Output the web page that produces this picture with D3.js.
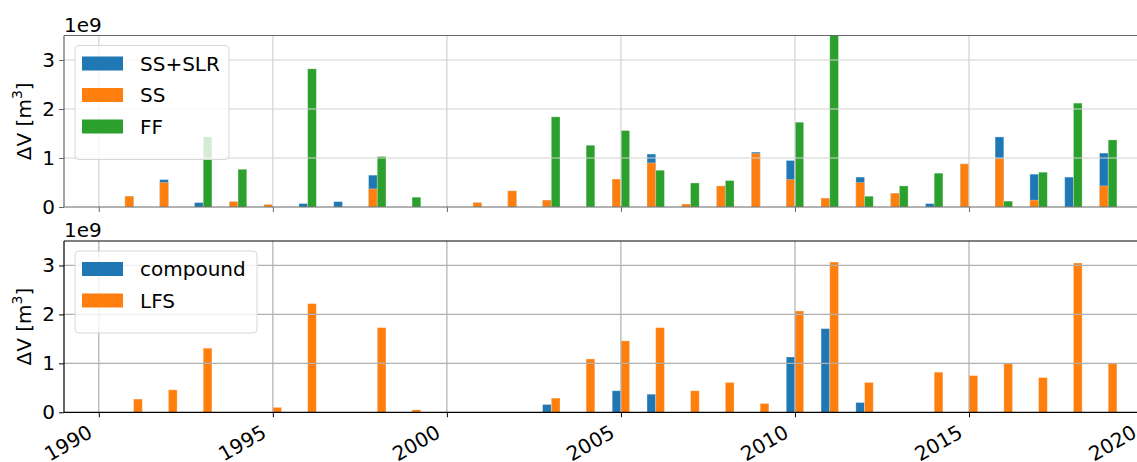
<!DOCTYPE html>
<html>
<head>
<meta charset="utf-8">
<script src="https://cdn.jsdelivr.net/npm/d3@7"></script>
<style>
  body { margin: 0; background: #fff; }
  svg text { font-family: "DejaVu Sans", sans-serif; fill: #000; }
</style>
</head>
<body>
<svg id="chart" width="1137" height="462"></svg>
<script>
// values in units of 1e9 m^3
const years = [1990, 1991, 1992, 1993, 1994, 1995, 1996, 1997, 1998, 1999,
  2000, 2001, 2002, 2003, 2004, 2005, 2006, 2007, 2008, 2009,
  2010, 2011, 2012, 2013, 2014, 2015, 2016, 2017, 2018, 2019];
const ssSlr = [0, 0.22, 0.56, 0.09, 0.11, 0.05, 0.07, 0.11, 0.65, 0,
  0, 0.09, 0.33, 0.14, 0, 0.57, 1.08, 0.06, 0.43, 1.12,
  0.95, 0.18, 0.61, 0.28, 0.07, 0.88, 1.43, 0.67, 0.61, 1.10];
const ss = [0, 0.22, 0.50, 0, 0.11, 0.05, 0, 0, 0.37, 0,
  0, 0.09, 0.33, 0.14, 0, 0.57, 0.90, 0.06, 0.43, 1.09,
  0.56, 0.18, 0.50, 0.28, 0, 0.88, 0.99, 0.14, 0, 0.43];
const ff = [0, 0, 0, 1.43, 0.77, 0, 2.82, 0, 1.03, 0.20,
  0, 0, 0, 1.84, 1.26, 1.56, 0.75, 0.49, 0.54, 0,
  1.73, 3.9, 0.22, 0.43, 0.69, 0, 0.12, 0.71, 2.12, 1.37];
const compound = [0, 0, 0, 0, 0, 0, 0, 0, 0, 0,
  0, 0, 0, 0.16, 0, 0.44, 0.37, 0, 0, 0,
  1.13, 1.71, 0.20, 0, 0, 0, 0, 0, 0, 0];
const lfs = [0, 0.27, 0.46, 1.31, 0, 0.10, 2.22, 0, 1.73, 0.05,
  0, 0, 0, 0.29, 1.09, 1.46, 1.73, 0.44, 0.61, 0.18,
  2.07, 3.07, 0.61, 0, 0.82, 0.75, 1.00, 0.71, 3.05, 1.00];
const xTicks = [1990, 1995, 2000, 2005, 2010, 2015, 2020];
const yTicks = [0, 1, 2, 3];

const BLUE = "#1f77b4", ORANGE = "#ff7f0e", GREEN = "#2ca02c";
const svg = d3.select("#chart");
const left = 64, right = 1150;
const barW = 0.25;
const FS = "20px";

const x = d3.scaleLinear().domain([1989, 2020.2]).range([left, right]);

function panel(top, bottom, opts) {
  const y = d3.scaleLinear().domain([0, 3.5]).range([bottom, top]);
  const g = svg.append("g");
  const clipId = "clip" + opts.id;
  svg.append("clipPath").attr("id", clipId)
    .append("rect").attr("x", left).attr("y", top)
    .attr("width", right - left).attr("height", bottom - top);

  const bars = g.append("g").attr("clip-path", `url(#${clipId})`);
  opts.series.forEach((s) => {
    bars.selectAll(null).data(years).join("rect")
      .attr("x", (d) => x(d + s.offset))
      .attr("width", x(barW) - x(0))
      .attr("y", (d, i) => y(s.values[i]))
      .attr("height", (d, i) => y(0) - y(s.values[i]))
      .attr("fill", s.color)
      .attr("stroke", "#fff").attr("stroke-opacity", 0.35).attr("stroke-width", 0.8)
      .style("display", (d, i) => (s.values[i] > 0 ? null : "none"));
  });

  // grid (drawn over the bars, like matplotlib patches)
  const grid = g.append("g").attr("stroke", opts.gridColor).attr("stroke-width", 1.2);
  grid.selectAll(null).data(yTicks.slice(1)).join("line")
    .attr("x1", left).attr("x2", right)
    .attr("y1", (d) => y(d)).attr("y2", (d) => y(d));
  grid.selectAll(null).data(xTicks).join("line")
    .attr("x1", (d) => x(d)).attr("x2", (d) => x(d))
    .attr("y1", top).attr("y2", bottom);

  // y axis
  const yAxis = g.append("g").attr("transform", `translate(${left},0)`)
    .call(d3.axisLeft(y).tickValues(yTicks).tickSize(5).tickPadding(4).tickFormat(d3.format("d")));
  yAxis.select(".domain").remove();
  yAxis.selectAll(".tick line").attr("stroke", opts.spine);
  yAxis.selectAll("text").style("font-size", FS).attr("fill", "#000");

  // x axis
  const xAxis = g.append("g").attr("transform", `translate(0,${bottom})`)
    .call(d3.axisBottom(x).tickValues(xTicks).tickSize(5).tickFormat(""));
  xAxis.select(".domain").remove();
  xAxis.selectAll(".tick line").attr("stroke", opts.spine);
  if (opts.labels) {
    g.selectAll(null).data(xTicks).join("text")
      .attr("transform", (d) => `translate(${x(d) - 5},${bottom + 24}) rotate(-30)`)
      .attr("text-anchor", "end")
      .style("font-size", FS)
      .text((d) => d);
  }

  // spines
  const sp = g.append("g").attr("stroke", opts.spine).attr("stroke-width", 1.2).attr("fill", "none");
  sp.append("line").attr("x1", left).attr("x2", left).attr("y1", top).attr("y2", bottom);
  sp.append("line").attr("x1", left).attr("x2", right).attr("y1", top).attr("y2", top);
  sp.append("line").attr("x1", left).attr("x2", right).attr("y1", bottom).attr("y2", bottom);

  // offset text and y label
  g.append("text").attr("x", left).attr("y", top - 4)
    .style("font-size", FS).text("1e9");
  const yl = g.append("text")
    .attr("transform", `translate(31,${(top + bottom) / 2}) rotate(-90)`)
    .attr("text-anchor", "middle").style("font-size", FS);
  yl.append("tspan").text("ΔV [m");
  yl.append("tspan").attr("dy", -9).style("font-size", "14px").text("3");
  yl.append("tspan").attr("dy", 9).text("]");

  // legend
  const lg = g.append("g");
  const lx = 75, ly = top + 10;
  const lh = 18 + opts.legend.length * 32;
  lg.append("rect").attr("x", lx).attr("y", ly)
    .attr("width", opts.legendW).attr("height", lh).attr("rx", 4)
    .attr("fill", "#fff").attr("fill-opacity", 0.8)
    .attr("stroke", "#d6d6d6").attr("stroke-width", 1);
  opts.legend.forEach((l, i) => {
    const cy = ly + 18 + i * 31.5;
    lg.append("rect").attr("x", lx + 7).attr("y", cy - 7)
      .attr("width", 41).attr("height", 14).attr("fill", l.color);
    lg.append("text").attr("x", lx + 65).attr("y", cy + 7)
      .style("font-size", FS).text(l.name);
  });
}

panel(35.5, 207, {
  id: "top",
  gridColor: "#d2d2d2",
  spine: "#666",
  labels: false,
  legendW: 154,
  series: [
    { values: ssSlr, color: BLUE, offset: -barW },
    { values: ss, color: ORANGE, offset: -barW },
    { values: ff, color: GREEN, offset: 0 },
  ],
  legend: [
    { name: "SS+SLR", color: BLUE },
    { name: "SS", color: ORANGE },
    { name: "FF", color: GREEN },
  ],
});

panel(241, 412.3, {
  id: "bottom",
  gridColor: "#b0b0b0",
  spine: "#000",
  labels: true,
  legendW: 182,
  series: [
    { values: compound, color: BLUE, offset: -barW },
    { values: lfs, color: ORANGE, offset: 0 },
  ],
  legend: [
    { name: "compound", color: BLUE },
    { name: "LFS", color: ORANGE },
  ],
});
</script>
</body>
</html>
